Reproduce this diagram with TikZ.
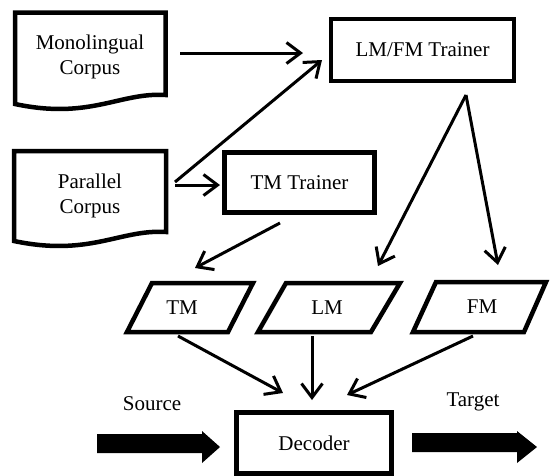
\documentclass[tikz,border=0pt]{standalone}
\usepackage{fontspec}
\setmainfont{Liberation Serif}
\usetikzlibrary{arrows.meta}
\begin{document}
\begin{tikzpicture}[x=1pt,y=-1pt,
  box/.style={draw,line width=4.5pt,line join=miter},
  lbl/.style={font=\fontsize{21}{25}\selectfont,align=center,inner sep=0pt},
  conn/.style={line width=3pt,-{Straight Barb[length=14pt,width=21pt,line width=3pt]}},
  fat/.style={fill=black,draw=none}]
\useasboundingbox (0,0) rectangle (550,475);
% document shapes
\draw[box] (165.5,95) -- (165.5,12.5) -- (15,12.5) -- (15,104)
  .. controls (90,120) and (120,92) .. (165.5,95) -- cycle;
\node[lbl] (mono) at (90,57) {Monolingual\\Corpus};
\draw[box] (166,232) -- (166,151) -- (14,151) -- (14,241)
  .. controls (90,257) and (120,229) .. (166,232) -- cycle;
\node[lbl] (par) at (90,196) {Parallel\\Corpus};
% trainers and decoder
\node[box,lbl,minimum width=183pt,minimum height=62pt] (lmfm) at (422.5,50) {LM/FM Trainer};
\node[box,lbl,minimum width=150pt,minimum height=60pt] (tmt) at (299.5,182.5) {TM Trainer};
\node[box,lbl,minimum width=155pt,minimum height=61pt] (dec) at (314,443) {Decoder};
% parallelograms
\draw[box] (127,332) -- (152,283) -- (253,283) -- (228,332) -- cycle;
\node[lbl] (tm) at (182,308) {TM};
\draw[box] (258,332) -- (286,283) -- (400,283) -- (371,332) -- cycle;
\node[lbl] (lm) at (327,308) {LM};
\draw[box] (413,332) -- (436,282) -- (546,282) -- (524,332) -- cycle;
\node[lbl] (fm) at (482,307) {FM};
% connector end points
\coordinate (a1) at (180,53);   \coordinate (b1) at (303,53);
\coordinate (a2) at (175,182);  \coordinate (b2) at (322,60);
\coordinate (a3) at (175,185);  \coordinate (b3) at (220,185);
\coordinate (a4) at (466,95);   \coordinate (b4) at (378,266);
\coordinate (b5) at (498,265);
\coordinate (a6) at (280,223);  \coordinate (b6) at (195,268);
\coordinate (a7) at (178,336);  \coordinate (b7) at (283,393);
\coordinate (a8) at (312,336);  \coordinate (b8) at (312,400);
\coordinate (a9) at (473,336);  \coordinate (b9) at (347,395);
\draw[conn] (a1) -- (b1);
\draw[conn] (a2) -- (b2);
\draw[conn] (a3) -- (b3);
\draw[conn] (a4) -- (b4);
\draw[conn] (a4) -- (b5);
\draw[conn] (a6) -- (b6);
\draw[conn] (a7) -- (b7);
\draw[conn] (a8) -- (b8);
\draw[conn] (a9) -- (b9);
% source / target
\node[lbl] (src) at (152,404) {Source};
\node[lbl] (tgt) at (473,402) {Target};
\fill[fat] (97,434) -- (202,434) -- (202,431) -- (220,447) -- (202,463) -- (202,453) -- (97,453) -- cycle;
\fill[fat] (412,433) -- (517,433) -- (517,431) -- (537,447) -- (517,463) -- (517,452) -- (412,452) -- cycle;
\end{tikzpicture}
\end{document}
